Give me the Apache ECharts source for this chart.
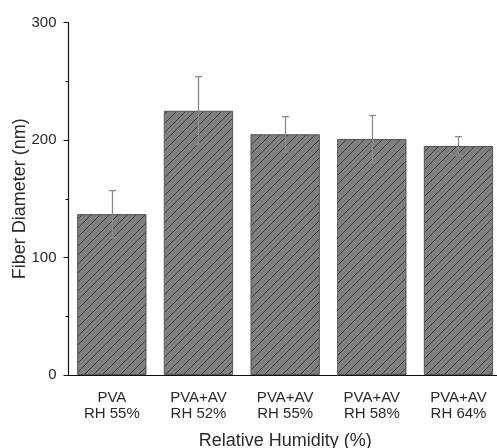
<!DOCTYPE html>
<html>
<head>
<meta charset="utf-8">
<script src="https://cdn.jsdelivr.net/npm/echarts@6/dist/echarts.min.js"></script>
<style>html,body{margin:0;padding:0;background:#fff}#c{width:497px;height:448px}</style>
</head>
<body>
<div id="c"></div>
<script>
const categories = ['PVA\nRH 55%', 'PVA+AV\nRH 52%', 'PVA+AV\nRH 55%', 'PVA+AV\nRH 58%', 'PVA+AV\nRH 64%'];
const diameters = [137, 225, 205, 201, 195];
const errors = [20, 29, 15, 20, 8];
const yTicks = [0, 100, 200, 300];

function hatch() {
  const s = 9;
  const c = document.createElement('canvas');
  c.width = s; c.height = s;
  const g = c.getContext('2d');
  g.fillStyle = '#7e7e7e';
  g.fillRect(0, 0, s, s);
  g.strokeStyle = '#404040';
  g.lineWidth = 1;
  g.beginPath();
  g.moveTo(-1, s + 1); g.lineTo(s + 1, -1);
  g.moveTo(-1, 1); g.lineTo(1, -1);
  g.moveTo(s - 1, s + 1); g.lineTo(s + 1, s - 1);
  g.stroke();
  return c;
}

const chart = echarts.init(document.getElementById('c'), null, {renderer: 'canvas'});
const font = 'Liberation Sans, Arial, sans-serif';
chart.setOption({
  animation: false,
  grid: {left: 68.5, right: -4.8, top: 22.7, bottom: 73, containLabel: false, outerBoundsMode: 'none'},
  xAxis: [{
    type: 'category',
    data: categories,
    axisLine: {lineStyle: {color: '#111', width: 1.2}},
    axisTick: {alignWithLabel: true, length: 5, inside: false, lineStyle: {color: '#111'}},
    axisLabel: {fontFamily: font, fontSize: 15, color: '#2a2a2a', lineHeight: 16, margin: 15, interval: 0},
    name: 'Relative Humidity (%)',
    nameLocation: 'middle',
    nameGap: 57,
    nameMoveOverlap: false,
    nameTextStyle: {fontFamily: font, fontSize: 18, color: '#2a2a2a'}
  }, {
    type: 'category',
    position: 'bottom',
    data: categories,
    axisLine: {show: false},
    axisTick: {alignWithLabel: false, length: 3, lineStyle: {color: '#111'}},
    axisLabel: {show: false}
  }],
  yAxis: {
    type: 'value',
    min: yTicks[0],
    max: yTicks[yTicks.length - 1],
    interval: 100,
    splitLine: {show: false},
    axisLine: {show: true, lineStyle: {color: '#111', width: 1.2}},
    axisTick: {show: true, length: 5, lineStyle: {color: '#111'}},
    minorTick: {show: true, splitNumber: 2, length: 3, lineStyle: {color: '#111'}},
    axisLabel: {fontFamily: font, fontSize: 15, color: '#2a2a2a', margin: 12},
    name: 'Fiber Diameter (nm)',
    nameLocation: 'middle',
    nameGap: 39,
    nameMoveOverlap: false,
    nameTextStyle: {fontFamily: font, fontSize: 18, color: '#2a2a2a'}
  },
  series: [{
    type: 'bar',
    data: diameters,
    barWidth: '80%',
    itemStyle: {
      color: {image: hatch(), repeat: 'repeat'},
      borderColor: '#555',
      borderWidth: 1
    }
  }, {
    type: 'custom',
    data: diameters.map((v, i) => [i, v - errors[i], v + errors[i]]),
    renderItem: function (params, api) {
      const lo = api.coord([api.value(0), api.value(1)]);
      const hi = api.coord([api.value(0), api.value(2)]);
      const x = Math.round(lo[0]) + 0.5;
      const hw = 3.5;
      const st = {stroke: '#8a8a8a', lineWidth: 1.3};
      return {
        type: 'group',
        children: [
          {type: 'line', shape: {x1: x, y1: lo[1], x2: x, y2: hi[1]}, style: st},
          {type: 'line', shape: {x1: x - hw, y1: lo[1], x2: x + hw, y2: lo[1]}, style: st},
          {type: 'line', shape: {x1: x - hw, y1: hi[1], x2: x + hw, y2: hi[1]}, style: st}
        ]
      };
    },
    z: 5
  }]
});
</script>
</body>
</html>
